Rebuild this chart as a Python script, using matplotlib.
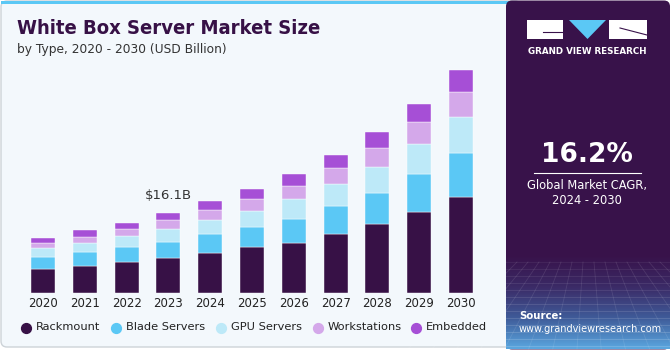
import numpy as np
import matplotlib.pyplot as plt
from matplotlib.patches import FancyBboxPatch, Rectangle, Polygon
from matplotlib.colors import LinearSegmentedColormap

years = ["2020", "2021", "2022", "2023", "2024", "2025", "2026", "2027", "2028", "2029", "2030"]
rackmount = [4.9, 5.5, 6.3, 7.0, 8.1, 9.2, 10.2, 11.9, 13.9, 16.4, 19.4]
blade = [2.4, 2.8, 3.0, 3.4, 3.8, 4.2, 4.8, 5.7, 6.4, 7.6, 8.9]
gpu = [1.7, 1.9, 2.2, 2.5, 2.8, 3.2, 3.9, 4.4, 5.2, 6.1, 7.3]
workstations = [1.1, 1.2, 1.5, 1.8, 2.0, 2.4, 2.7, 3.2, 3.8, 4.4, 5.1]
embedded = [1.1, 1.3, 1.1, 1.4, 1.8, 2.0, 2.4, 2.7, 3.2, 3.7, 4.4]

series = [rackmount, blade, gpu, workstations, embedded]
names = ["Rackmount", "Blade Servers", "GPU Servers", "Workstations", "Embedded"]
colors = ["#371146", "#5bc8f5", "#bde9f8", "#d4a8ea", "#a64fd6"]

W, H = 671, 350
fig = plt.figure(figsize=(W / 100, H / 100), dpi=100)
fig.patch.set_facecolor("white")

# background / decoration layer in pixel coords
bg = fig.add_axes([0, 0, 1, 1], zorder=0)
bg.set_xlim(0, W)
bg.set_ylim(H, 0)
bg.axis("off")

bg.add_patch(FancyBboxPatch((1, 1), 520, 346, boxstyle="round,pad=0,rounding_size=6",
                            fc="#f3f8fc", ec="#cdd3d8", lw=1.0))
bg.add_patch(Rectangle((1, 0.5), 510, 3.5, fc="#5bc8f5", ec="none"))

# right panel
bg.add_patch(FancyBboxPatch((506, 0.5), 164, 349, boxstyle="round,pad=0,rounding_size=6",
                            fc="#38124a", ec="none"))
grad = np.linspace(0, 1, 100)[:, None]
cmap = LinearSegmentedColormap.from_list("g", ["#38124a", "#3b2a66", "#3f5a98", "#5aa6df"])
bg.imshow(grad, extent=(506, 670, 349, 255), cmap=cmap, aspect="auto", zorder=1)
for k in range(13):
    yy = 262 + k * 7
    bg.plot([506, 670], [yy, yy], color="white", alpha=0.07 + 0.01 * k, lw=0.6, zorder=2)
for k in range(16):
    xx = 506 + k * 11
    bg.plot([xx, 588 + (xx - 588) * 2.2], [262, 349], color="white", alpha=0.1, lw=0.6, zorder=2)

# logo
bg.add_patch(Rectangle((527, 20), 36, 19, fc="white", ec="none", zorder=3))
bg.add_patch(Polygon([(569, 20), (606, 20), (587.5, 39)], closed=True, fc="#5bc8f5", ec="none", zorder=3))
bg.add_patch(Rectangle((609, 20), 38, 19, fc="white", ec="none", zorder=3))
bg.plot([543, 563], [32, 32], color="#38124a", lw=0.8, zorder=4)
bg.plot([620, 647], [28, 35], color="#38124a", lw=0.8, zorder=4)
bg.text(587, 51, "GRAND VIEW RESEARCH", color="white", fontsize=6.3, fontweight="bold",
        ha="center", va="center", zorder=4)

bg.text(587, 155, "16.2%", color="white", fontsize=19, fontweight="bold", ha="center", va="center", zorder=4)
bg.plot([534, 641], [173, 173], color="white", lw=0.8, zorder=4)
bg.text(587, 186, "Global Market CAGR,", color="white", fontsize=8.3, ha="center", va="center", zorder=4)
bg.text(587, 201, "2024 - 2030", color="white", fontsize=8.3, ha="center", va="center", zorder=4)
bg.text(519, 316, "Source:", color="white", fontsize=7.3, fontweight="bold", ha="left", va="center", zorder=4)
bg.text(519, 329, "www.grandviewresearch.com", color="white", fontsize=7.0, ha="left", va="center", zorder=4)

# titles
bg.text(17, 29, "White Box Server Market Size", color="#371146", fontsize=14.5, fontweight="bold",
        fontstretch="condensed", family="DejaVu Sans", ha="left", va="center", zorder=4)
bg.text(17, 49, "by Type, 2020 - 2030 (USD Billion)", color="#333333", fontsize=8.8,
        ha="left", va="center", zorder=4)

# chart axes
base_px, top_px = 293, 60
px_per_unit = 41.8
px_per_b = 4.95
ax = fig.add_axes([0, (H - base_px) / H, 505 / W, (base_px - top_px) / H], zorder=2)
ax.set_facecolor("none")
x = np.arange(len(years))
bottom = np.zeros(len(years))
for vals, c in zip(series, colors):
    ax.bar(x, vals, width=0.57, bottom=bottom, color=c, edgecolor="#ffffff", linewidth=0.3)
    bottom += np.array(vals)
ax.set_xlim(-43 / px_per_unit, (505 - 43) / px_per_unit)
ax.set_ylim(0, (base_px - top_px) / px_per_b)
for s in ax.spines.values():
    s.set_visible(False)
ax.set_yticks([])
ax.set_xticks(x)
ax.set_xticklabels(years, fontsize=8.5, color="#222222")
ax.tick_params(axis="x", length=0, pad=3)

ax.annotate("$16.1B", (3, bottom[3]), xytext=(0, 13), textcoords="offset points",
            ha="center", va="center", fontsize=9.5, color="#333333")

# legend
leg_x = [26, 116, 221, 318, 416]
for lx, n, c in zip(leg_x, names, colors):
    bg.scatter([lx], [328], s=50, color=c, zorder=4)
    bg.text(lx + 10, 327.5, n, fontsize=8.2, color="#222222", ha="left", va="center", zorder=4)

fig.savefig("out.png", dpi=100)
